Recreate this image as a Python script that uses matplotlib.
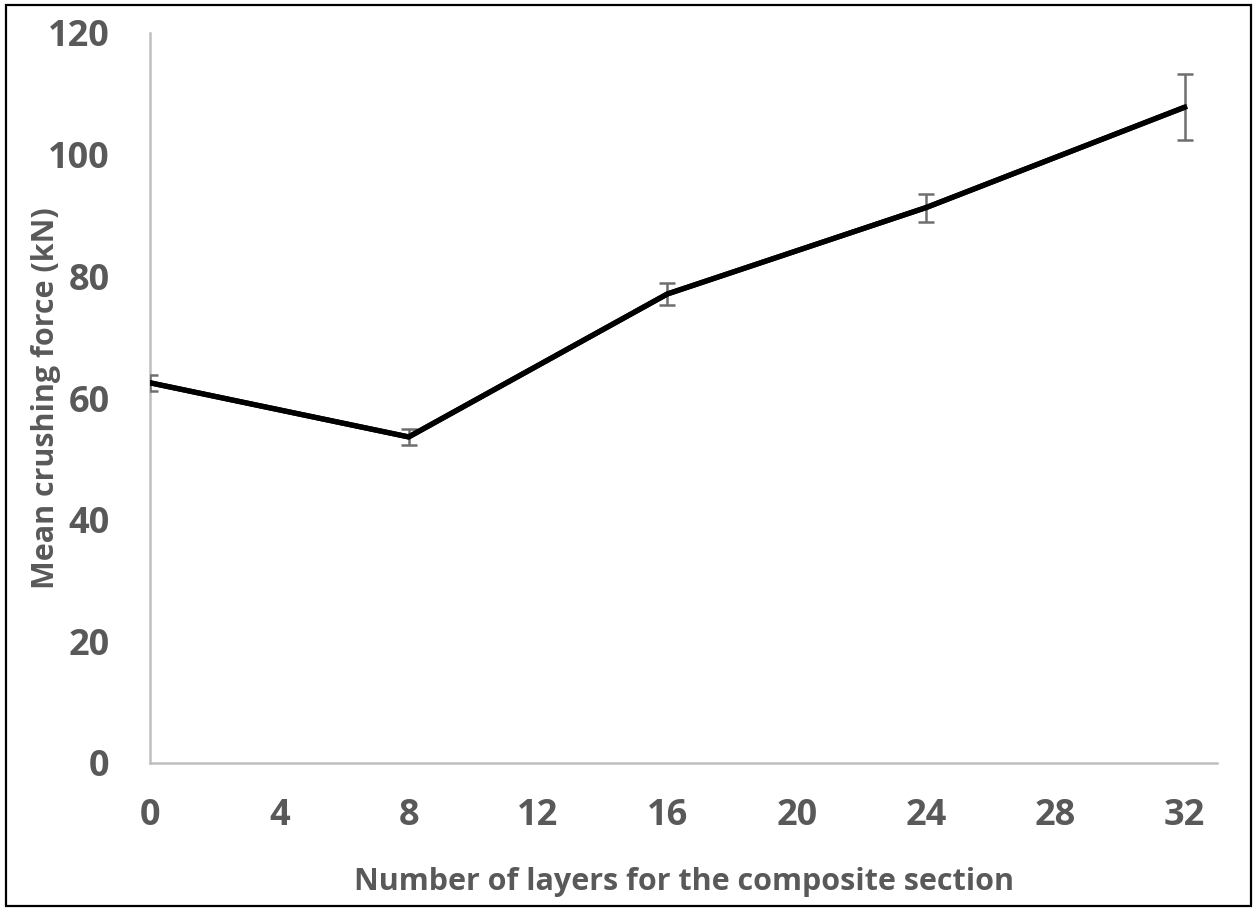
import matplotlib
matplotlib.use("Agg")
import matplotlib.pyplot as plt
from matplotlib.patches import Rectangle

layers = [0, 8, 16, 24, 32]
mean_force = [62.5, 53.6, 77.1, 91.3, 107.8]
force_err = [1.3, 1.3, 1.8, 2.3, 5.4]
x_ticks = [0, 4, 8, 12, 16, 20, 24, 28, 32]
y_ticks = [0, 20, 40, 60, 80, 100, 120]

plt.rcParams['font.family'] = ['Open Sans', 'DejaVu Sans']
text_color = '#595959'
axis_color = '#BFBFBF'

fig = plt.figure(figsize=(12.57, 9.11), dpi=100)
ax = fig.add_axes([150/1257, 1-763/911, (1217-150)/1257, (763-33)/911])

ax.errorbar(layers, mean_force, yerr=force_err, color='black', lw=3.8,
            ecolor='#6e6e6e', elinewidth=1.8, capsize=6, capthick=1.8, zorder=3)
ax.plot(layers, mean_force, color='black', lw=3.8, zorder=4, solid_capstyle='butt')

ax.set_xlim(0, 33)
ax.set_ylim(0, 120)
ax.set_xticks(x_ticks)
ax.set_yticks(y_ticks)
ax.tick_params(axis='both', length=0, labelsize=26, colors=text_color)
ax.tick_params(axis='y', pad=29)
ax.tick_params(axis='x', pad=25)
for lbl in ax.get_xticklabels() + ax.get_yticklabels():
    lbl.set_fontweight('bold')

for side in ['top', 'right']:
    ax.spines[side].set_visible(False)
for side in ['left', 'bottom']:
    ax.spines[side].set_color(axis_color)
    ax.spines[side].set_linewidth(1.8)

ax.set_xlabel('Number of layers for the composite section', fontsize=22,
              fontweight='bold', color=text_color)
ax.set_ylabel('Mean crushing force (kN)', fontsize=22,
              fontweight='bold', color=text_color)
ax.xaxis.set_label_coords(0.5, (763-867)/730)
ax.yaxis.set_label_coords((61-150)/1067, 0.5)

fig.patches.append(Rectangle((6/1257, 5/911), (1251-6)/1257, (906-5)/911,
                             transform=fig.transFigure, fill=False,
                             edgecolor='black', lw=1.6))

fig.savefig('out.png', dpi=100)
